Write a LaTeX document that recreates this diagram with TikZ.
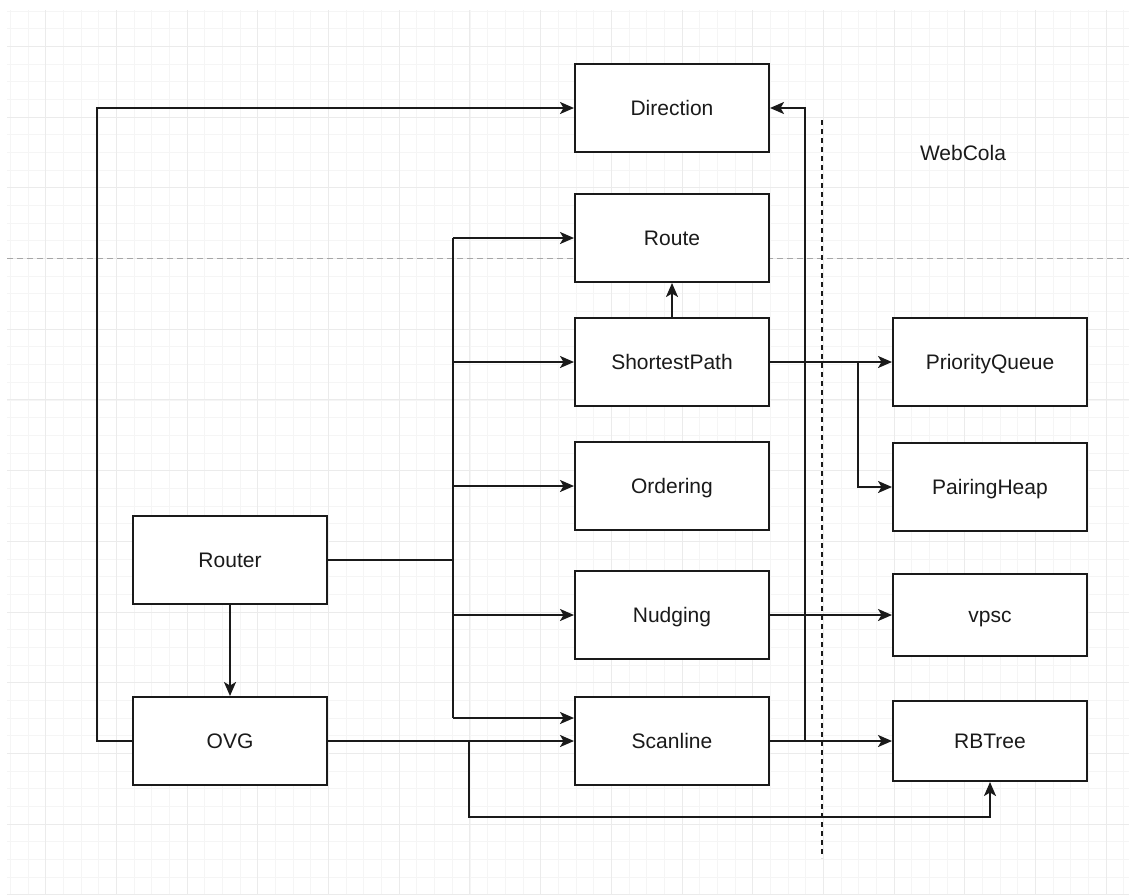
\documentclass[tikz,border=0pt]{standalone}
\usepackage{fontspec}
\setmainfont{Liberation Sans}
\usetikzlibrary{arrows.meta,calc}

\definecolor{ink}{HTML}{1A1A1A}
\definecolor{gridminor}{HTML}{F5F5F5}
\definecolor{gridmajor}{HTML}{EBEBEB}

\tikzset{
  box/.style={draw=ink, line width=2pt, fill=white, minimum width=194pt,
    minimum height=88pt, inner sep=0pt, text=ink, text height=15pt,
    text depth=0pt, font=\fontsize{21}{25}\selectfont},
  wire/.style={draw=ink, line width=2pt},
  arr/.style={wire, -{Stealth[length=14pt,width=12pt,inset=3.5pt]}},
  label/.style={text=ink, font=\fontsize{21}{25}\selectfont, inner sep=0pt,
    text height=15pt, text depth=0pt}
}

\begin{document}
\begin{tikzpicture}[x=1pt,y=-1pt]
\useasboundingbox (0,0) rectangle (1129,894);
\fill[white] (0,0) rectangle (1129,894);

% background grid, lines snapped to whole units
\begin{scope}
  \clip (7,10) rectangle (1129,894);
  \foreach \i in {-2,...,62} {
    \pgfmathsetmacro\gx{round(45.3+17.675*\i)+0.5}
    \draw[gridminor, line width=1pt] (\gx,10) -- (\gx,894);
  }
  \foreach \i in {-2,...,50} {
    \pgfmathsetmacro\gy{round(46+17.675*\i)+0.5}
    \draw[gridminor, line width=1pt] (7,\gy) -- (1129,\gy);
  }
  \foreach \i in {0,...,15} {
    \pgfmathsetmacro\gx{round(45.3+70.7*\i)+0.5}
    \draw[gridmajor, line width=1pt] (\gx,10) -- (\gx,894);
  }
  \foreach \i in {0,...,12} {
    \pgfmathsetmacro\gy{round(46+70.7*\i)+0.5}
    \draw[gridmajor, line width=1pt] (7,\gy) -- (1129,\gy);
  }
\end{scope}

% separators
\draw[gray!70, line width=1pt, dash pattern=on 6pt off 4pt] (7,258.5) -- (1129,258.5);
\draw[ink, line width=1.6pt, dash pattern=on 5pt off 4pt] (822,120) -- (822,858);

\node[label] (webcola) at (963,153) {WebCola};

% modules
\node[box] (Direction) at (672,108) {Direction};
\node[box] (Route) at (672,238) {Route};
\node[box] (ShortestPath) at (672,362) {ShortestPath};
\node[box] (Ordering) at (672,486) {Ordering};
\node[box] (Nudging) at (672,615) {Nudging};
\node[box] (Scanline) at (672,741) {Scanline};
\node[box] (Router) at (230,560) {Router};
\node[box] (OVG) at (230,741) {OVG};
\node[box] (PriorityQueue) at (990,362) {PriorityQueue};
\node[box] (PairingHeap) at (990,487) {PairingHeap};
\node[box, minimum height=82pt] (vpsc) at (990,615) {vpsc};
\node[box, minimum height=80pt] (RBTree) at (990,741) {RBTree};

% Router fan-out bus
\coordinate (bt) at (453,238);
\coordinate (bb) at (453,718);
\draw[wire] (bt) -- (bb);
\draw[wire] (Router.east) -- (Router.east -| bt);
\draw[arr] (bt) -- (Route.west);
\draw[arr] (bt |- ShortestPath.west) -- (ShortestPath.west);
\draw[arr] (bt |- Ordering.west) -- (Ordering.west);
\draw[arr] (bt |- Nudging.west) -- (Nudging.west);
\draw[arr] (bb) -- (bb -| Scanline.west);

\draw[arr] (Router.south) -- (OVG.north);

% OVG links
\draw[arr] (OVG.west) -- ++(-35,0) |- (Direction.west);
\draw[arr] (OVG.east) -- (Scanline.west);
\coordinate (ovgtap) at (469,741);
\draw[arr] (ovgtap) -- (469,817) -| (RBTree.south);

% Scanline links
\draw[arr] (Scanline.east) -- (RBTree.west);
\coordinate (scantap) at (805,741);
\draw[arr] (scantap) |- (Direction.east);

% ShortestPath links
\draw[arr] (ShortestPath.north) -- (Route.south);
\draw[arr] (ShortestPath.east) -- (PriorityQueue.west);
\coordinate (sptap) at (858,362);
\draw[arr] (sptap) |- (PairingHeap.west);

% Nudging link
\draw[arr] (Nudging.east) -- (vpsc.west);
\end{tikzpicture}
\end{document}
